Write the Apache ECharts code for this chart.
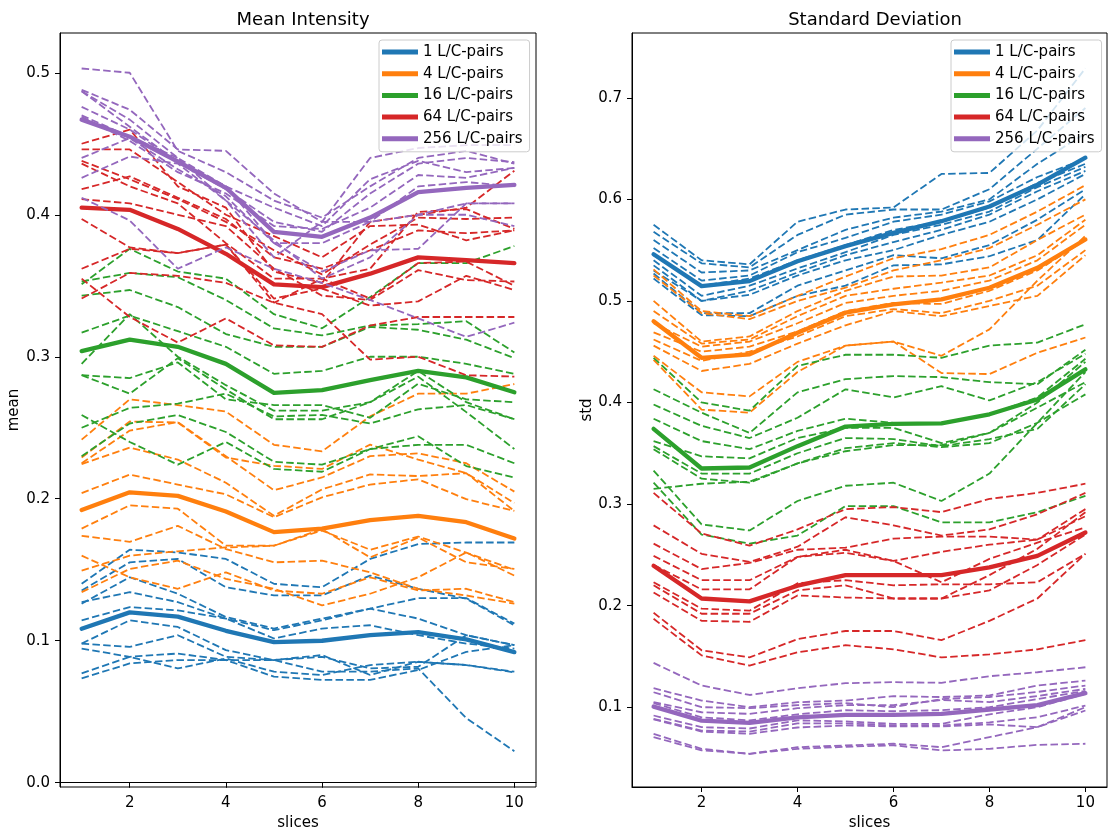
<!DOCTYPE html>
<html lang="en">
<head>
    <meta charset="UTF-8">
    <title>Mean Intensity / Standard Deviation</title>
    <script src="https://cdn.jsdelivr.net/npm/echarts@6.0.0/dist/echarts.min.js"></script>
    <style>
        html, body { margin: 0; padding: 0; background: #fff; }
        #chart { width: 1111px; height: 836px; }
    </style>
</head>
<body>
<div id="chart"></div>
<script>
    // x axis: slice index
    var slices = [1, 2, 3, 4, 5, 6, 7, 8, 9, 10];
    var groupNames = ['1 L/C-pairs', '4 L/C-pairs', '16 L/C-pairs', '64 L/C-pairs', '256 L/C-pairs'];
    var xTicks = [2, 4, 6, 8, 10];
    var meanTicks = [0.0, 0.1, 0.2, 0.3, 0.4, 0.5];
    var stdTicks = [0.1, 0.2, 0.3, 0.4, 0.5, 0.6, 0.7];

    // ---- mean intensity: averages (thick) ----
    var meanAvg1 = [0.1085, 0.120, 0.117, 0.107, 0.099, 0.100, 0.104, 0.106, 0.101, 0.092];
    var meanAvg4 = [0.192, 0.2045, 0.202, 0.191, 0.1765, 0.179, 0.185, 0.188, 0.1835, 0.172];
    var meanAvg16 = [0.304, 0.312, 0.307, 0.295, 0.2745, 0.2765, 0.2835, 0.290, 0.2855, 0.275];
    var meanAvg64 = [0.405, 0.4035, 0.390, 0.3725, 0.351, 0.349, 0.3585, 0.370, 0.368, 0.366];
    var meanAvg256 = [0.467, 0.455, 0.4375, 0.419, 0.388, 0.3845, 0.398, 0.416, 0.419, 0.421];

    // ---- mean intensity: single runs (dashed) ----
    var meanRuns1 = [
        [0.1401, 0.1641, 0.1622, 0.1576, 0.1401, 0.1377, 0.1576, 0.1681, 0.1692, 0.1692],
        [0.1354, 0.1552, 0.1576, 0.1377, 0.1319, 0.1319, 0.1459, 0.1366, 0.1296, 0.1109],
        [0.1261, 0.1447, 0.1331, 0.1167, 0.1086, 0.1156, 0.1226, 0.1300, 0.1300, 0.1121],
        [0.1272, 0.1342, 0.1272, 0.1156, 0.1016, 0.1086, 0.1109, 0.1039, 0.0980, 0.0945],
        [0.1144, 0.1237, 0.1214, 0.1156, 0.1074, 0.1144, 0.1226, 0.1156, 0.1039, 0.0969],
        [0.0980, 0.1144, 0.1097, 0.0934, 0.0864, 0.0887, 0.0805, 0.0817, 0.1039, 0.0969],
        [0.0980, 0.0957, 0.1039, 0.0887, 0.0864, 0.0899, 0.0759, 0.0852, 0.0829, 0.0782],
        [0.0945, 0.0887, 0.0910, 0.0864, 0.0864, 0.0782, 0.0782, 0.0805, 0.0455, 0.0222],
        [0.0770, 0.0887, 0.0805, 0.0875, 0.0782, 0.0759, 0.0829, 0.0852, 0.0829, 0.0777],
        [0.0735, 0.0840, 0.0864, 0.0864, 0.0747, 0.0724, 0.0724, 0.0794, 0.0922, 0.0969]
    ];
    var meanRuns4 = [
        [0.2416, 0.2700, 0.2660, 0.2614, 0.2380, 0.2334, 0.2580, 0.2740, 0.2740, 0.2808],
        [0.2290, 0.2544, 0.2537, 0.2290, 0.2232, 0.2210, 0.2381, 0.2276, 0.2180, 0.1970],
        [0.2244, 0.2360, 0.2276, 0.2113, 0.1880, 0.2066, 0.2171, 0.2160, 0.2180, 0.1914],
        [0.2040, 0.2170, 0.2100, 0.2031, 0.1870, 0.2010, 0.2100, 0.2137, 0.1997, 0.1914],
        [0.1790, 0.1954, 0.1930, 0.1670, 0.1670, 0.1776, 0.1641, 0.1734, 0.1620, 0.1500],
        [0.1739, 0.1697, 0.1809, 0.1646, 0.1552, 0.1564, 0.1482, 0.1366, 0.1319, 0.1261],
        [0.1599, 0.1447, 0.1366, 0.1482, 0.1354, 0.1331, 0.1447, 0.1354, 0.1366, 0.1272],
        [0.1494, 0.1599, 0.1630, 0.1657, 0.1669, 0.1786, 0.1587, 0.1727, 0.1552, 0.1506],
        [0.1342, 0.1506, 0.1564, 0.1436, 0.1366, 0.1249, 0.1331, 0.1447, 0.1622, 0.1459],
        [0.2250, 0.2480, 0.2540, 0.2300, 0.2060, 0.2150, 0.2300, 0.2320, 0.2250, 0.2050]
    ];
    var meanRuns16 = [
        [0.351, 0.376, 0.360, 0.355, 0.330, 0.320, 0.342, 0.366, 0.366, 0.378],
        [0.353, 0.359, 0.356, 0.340, 0.320, 0.315, 0.322, 0.323, 0.325, 0.303],
        [0.343, 0.347, 0.335, 0.316, 0.307, 0.307, 0.321, 0.319, 0.312, 0.299],
        [0.317, 0.329, 0.318, 0.307, 0.288, 0.290, 0.300, 0.300, 0.295, 0.288],
        [0.295, 0.330, 0.300, 0.280, 0.262, 0.262, 0.268, 0.290, 0.268, 0.256],
        [0.287, 0.285, 0.296, 0.270, 0.266, 0.266, 0.257, 0.281, 0.270, 0.268],
        [0.230, 0.253, 0.259, 0.247, 0.226, 0.224, 0.235, 0.238, 0.238, 0.225],
        [0.250, 0.264, 0.267, 0.274, 0.258, 0.259, 0.253, 0.263, 0.266, 0.256],
        [0.259, 0.240, 0.224, 0.240, 0.221, 0.219, 0.235, 0.244, 0.223, 0.215],
        [0.287, 0.274, 0.299, 0.277, 0.256, 0.256, 0.268, 0.286, 0.261, 0.235]
    ];
    var meanRuns64 = [
        [0.450, 0.460, 0.420, 0.405, 0.360, 0.352, 0.395, 0.400, 0.405, 0.431],
        [0.446, 0.446, 0.423, 0.400, 0.385, 0.370, 0.392, 0.393, 0.382, 0.389],
        [0.438, 0.425, 0.411, 0.395, 0.375, 0.358, 0.379, 0.398, 0.397, 0.398],
        [0.436, 0.420, 0.408, 0.380, 0.355, 0.355, 0.362, 0.402, 0.404, 0.390],
        [0.418, 0.427, 0.412, 0.397, 0.370, 0.362, 0.375, 0.389, 0.387, 0.389],
        [0.411, 0.408, 0.400, 0.392, 0.362, 0.343, 0.340, 0.361, 0.354, 0.353],
        [0.397, 0.377, 0.373, 0.379, 0.338, 0.355, 0.341, 0.366, 0.367, 0.350],
        [0.362, 0.376, 0.373, 0.379, 0.341, 0.348, 0.336, 0.339, 0.357, 0.347],
        [0.355, 0.328, 0.310, 0.327, 0.308, 0.307, 0.322, 0.328, 0.328, 0.328],
        [0.341, 0.359, 0.357, 0.352, 0.338, 0.330, 0.298, 0.300, 0.287, 0.286]
    ];
    var meanRuns256 = [
        [0.503, 0.500, 0.445, 0.430, 0.410, 0.398, 0.420, 0.440, 0.445, 0.436],
        [0.488, 0.474, 0.446, 0.445, 0.415, 0.395, 0.440, 0.447, 0.449, 0.449],
        [0.487, 0.467, 0.440, 0.420, 0.405, 0.392, 0.425, 0.438, 0.430, 0.433],
        [0.476, 0.460, 0.437, 0.418, 0.395, 0.388, 0.415, 0.436, 0.440, 0.437],
        [0.469, 0.452, 0.430, 0.415, 0.392, 0.390, 0.405, 0.428, 0.426, 0.433],
        [0.440, 0.454, 0.432, 0.413, 0.380, 0.380, 0.395, 0.400, 0.408, 0.408],
        [0.426, 0.441, 0.436, 0.410, 0.382, 0.355, 0.370, 0.400, 0.400, 0.392],
        [0.412, 0.396, 0.362, 0.377, 0.362, 0.352, 0.340, 0.327, 0.314, 0.324],
        [0.487, 0.462, 0.437, 0.420, 0.380, 0.360, 0.375, 0.376, 0.408, 0.408],
        [0.470, 0.455, 0.440, 0.410, 0.370, 0.395, 0.395, 0.420, 0.423, 0.420]
    ];

    // ---- standard deviation: averages (thick) ----
    var stdAvg1 = [0.546, 0.5146, 0.5195, 0.539, 0.554, 0.567, 0.5785, 0.593, 0.6145, 0.641];
    var stdAvg4 = [0.480, 0.444, 0.4474, 0.4687, 0.4884, 0.4966, 0.5015, 0.513, 0.5326, 0.5605];
    var stdAvg16 = [0.374, 0.335, 0.336, 0.357, 0.3763, 0.379, 0.3795, 0.3884, 0.403, 0.4326];
    var stdAvg64 = [0.2393, 0.207, 0.2042, 0.2196, 0.230, 0.230, 0.230, 0.2376, 0.249, 0.272];
    var stdAvg256 = [0.1006, 0.0868, 0.0846, 0.090, 0.0924, 0.0924, 0.0934, 0.0977, 0.102, 0.1138];

    // ---- standard deviation: single runs (dashed) ----
    var stdRuns1 = [
        [0.575, 0.540, 0.536, 0.578, 0.590, 0.592, 0.625, 0.626, 0.668, 0.729],
        [0.568, 0.537, 0.533, 0.565, 0.585, 0.590, 0.590, 0.610, 0.650, 0.690],
        [0.560, 0.528, 0.530, 0.550, 0.570, 0.582, 0.588, 0.600, 0.635, 0.665],
        [0.552, 0.520, 0.525, 0.548, 0.562, 0.578, 0.585, 0.598, 0.622, 0.640],
        [0.545, 0.515, 0.522, 0.540, 0.555, 0.570, 0.578, 0.592, 0.616, 0.635],
        [0.540, 0.505, 0.515, 0.532, 0.548, 0.565, 0.575, 0.588, 0.612, 0.632],
        [0.535, 0.500, 0.510, 0.528, 0.545, 0.558, 0.570, 0.585, 0.608, 0.628],
        [0.530, 0.500, 0.506, 0.525, 0.540, 0.550, 0.565, 0.578, 0.600, 0.625],
        [0.527, 0.488, 0.488, 0.515, 0.530, 0.545, 0.542, 0.555, 0.580, 0.610],
        [0.522, 0.486, 0.485, 0.505, 0.515, 0.535, 0.536, 0.544, 0.560, 0.605]
    ];
    var stdRuns4 = [
        [0.531, 0.490, 0.485, 0.505, 0.524, 0.542, 0.551, 0.565, 0.588, 0.614],
        [0.525, 0.488, 0.482, 0.500, 0.513, 0.530, 0.540, 0.552, 0.575, 0.600],
        [0.500, 0.460, 0.465, 0.490, 0.510, 0.524, 0.525, 0.533, 0.560, 0.585],
        [0.490, 0.458, 0.462, 0.485, 0.505, 0.512, 0.518, 0.525, 0.545, 0.580],
        [0.478, 0.455, 0.460, 0.478, 0.498, 0.505, 0.510, 0.520, 0.540, 0.575],
        [0.469, 0.450, 0.455, 0.470, 0.490, 0.498, 0.497, 0.510, 0.530, 0.560],
        [0.462, 0.441, 0.450, 0.465, 0.485, 0.492, 0.488, 0.500, 0.515, 0.550],
        [0.456, 0.431, 0.438, 0.458, 0.476, 0.490, 0.485, 0.495, 0.505, 0.545],
        [0.446, 0.410, 0.406, 0.440, 0.456, 0.460, 0.446, 0.472, 0.520, 0.564],
        [0.442, 0.393, 0.390, 0.430, 0.456, 0.460, 0.429, 0.428, 0.449, 0.464]
    ];
    var stdRuns16 = [
        [0.444, 0.400, 0.392, 0.436, 0.447, 0.447, 0.444, 0.456, 0.459, 0.477],
        [0.413, 0.390, 0.370, 0.410, 0.423, 0.426, 0.425, 0.420, 0.418, 0.452],
        [0.398, 0.377, 0.365, 0.385, 0.413, 0.405, 0.416, 0.402, 0.420, 0.448],
        [0.384, 0.362, 0.354, 0.372, 0.384, 0.380, 0.380, 0.388, 0.405, 0.443],
        [0.362, 0.347, 0.345, 0.365, 0.375, 0.375, 0.360, 0.370, 0.400, 0.440],
        [0.357, 0.330, 0.330, 0.350, 0.365, 0.364, 0.357, 0.364, 0.374, 0.418],
        [0.354, 0.325, 0.321, 0.340, 0.355, 0.360, 0.356, 0.360, 0.380, 0.408],
        [0.333, 0.280, 0.274, 0.303, 0.318, 0.321, 0.303, 0.330, 0.380, 0.430],
        [0.321, 0.270, 0.261, 0.269, 0.298, 0.298, 0.282, 0.282, 0.292, 0.308],
        [0.315, 0.320, 0.322, 0.340, 0.352, 0.358, 0.358, 0.370, 0.395, 0.420]
    ];
    var stdRuns64 = [
        [0.311, 0.271, 0.259, 0.275, 0.295, 0.297, 0.292, 0.305, 0.311, 0.320],
        [0.279, 0.251, 0.243, 0.258, 0.287, 0.279, 0.269, 0.275, 0.290, 0.311],
        [0.261, 0.236, 0.242, 0.255, 0.257, 0.266, 0.268, 0.268, 0.265, 0.295],
        [0.249, 0.225, 0.225, 0.248, 0.252, 0.244, 0.253, 0.260, 0.265, 0.288],
        [0.240, 0.216, 0.216, 0.248, 0.255, 0.244, 0.223, 0.246, 0.262, 0.277],
        [0.223, 0.197, 0.195, 0.222, 0.225, 0.220, 0.221, 0.221, 0.223, 0.251],
        [0.220, 0.192, 0.192, 0.215, 0.220, 0.207, 0.207, 0.230, 0.256, 0.292],
        [0.213, 0.185, 0.184, 0.210, 0.208, 0.207, 0.207, 0.215, 0.240, 0.270],
        [0.193, 0.156, 0.149, 0.167, 0.175, 0.175, 0.166, 0.185, 0.207, 0.251],
        [0.187, 0.151, 0.141, 0.154, 0.161, 0.157, 0.149, 0.152, 0.157, 0.166]
    ];
    var stdRuns256 = [
        [0.1436, 0.1213, 0.1120, 0.1187, 0.1236, 0.1246, 0.1240, 0.1305, 0.1344, 0.1393],
        [0.1187, 0.1065, 0.1000, 0.1049, 0.1065, 0.1108, 0.1100, 0.1115, 0.1213, 0.1262],
        [0.1147, 0.1000, 0.0990, 0.1020, 0.1040, 0.1000, 0.1080, 0.1100, 0.1150, 0.1213],
        [0.1049, 0.0950, 0.0934, 0.0990, 0.1020, 0.1020, 0.1070, 0.1050, 0.1110, 0.1180],
        [0.1040, 0.0900, 0.0870, 0.0930, 0.0970, 0.0960, 0.0970, 0.1000, 0.1080, 0.1160],
        [0.0918, 0.0803, 0.0790, 0.0870, 0.0860, 0.0836, 0.0836, 0.0930, 0.1000, 0.1130],
        [0.0885, 0.0770, 0.0760, 0.0840, 0.0840, 0.0820, 0.0820, 0.0850, 0.0901, 0.1016],
        [0.0880, 0.0760, 0.0738, 0.0800, 0.0820, 0.0810, 0.0810, 0.0830, 0.0803, 0.0967],
        [0.0737, 0.0590, 0.0541, 0.0606, 0.0623, 0.0640, 0.0606, 0.0705, 0.0803, 0.1000],
        [0.0705, 0.0575, 0.0541, 0.0590, 0.0610, 0.0625, 0.0574, 0.0590, 0.0629, 0.0640]
    ];

    var colors = ['#1f77b4', '#ff7f0e', '#2ca02c', '#d62728', '#9467bd'];
    var font = 'DejaVu Sans';

    var meanGroups = [[meanRuns1, meanAvg1], [meanRuns4, meanAvg4], [meanRuns16, meanAvg16], [meanRuns64, meanAvg64], [meanRuns256, meanAvg256]];
    var stdGroups = [[stdRuns1, stdAvg1], [stdRuns4, stdAvg4], [stdRuns16, stdAvg16], [stdRuns64, stdAvg64], [stdRuns256, stdAvg256]];

    function toPoints(vals) {
        return slices.map(function (s, i) { return [s, vals[i]]; });
    }

    // dashed runs first, then the thick average, group after group
    function buildSeries(groups, axisIdx) {
        var out = [];
        groups.forEach(function (g, gi) {
            g[0].forEach(function (run, ri) {
                out.push({
                    type: 'line', name: 'run' + axisIdx + '_' + gi + '_' + ri,
                    xAxisIndex: axisIdx, yAxisIndex: axisIdx,
                    data: toPoints(run), symbol: 'none', silent: true,
                    color: colors[gi],
                    lineStyle: { color: colors[gi], width: 1.8, type: [7.5, 3.3] }
                });
            });
            out.push({
                type: 'line', name: groupNames[gi],
                xAxisIndex: axisIdx, yAxisIndex: axisIdx,
                data: toPoints(g[1]), symbol: 'none', silent: true,
                color: colors[gi],
                lineStyle: { color: colors[gi], width: 4.3, join: 'round', cap: 'round' }
            });
        });
        return out;
    }

    function xAxisOf(gi) {
        return {
            type: 'value', gridIndex: gi, min: 0.55, max: 10.45,
            name: 'slices', nameLocation: 'middle', nameGap: 29,
            nameTextStyle: { fontSize: 15, color: '#000', fontFamily: font },
            splitLine: { show: false },
            axisLine: { lineStyle: { color: '#000', width: 1 } },
            axisTick: { length: 5, lineStyle: { color: '#000' }, customValues: xTicks },
            axisLabel: { customValues: xTicks, fontSize: 15, color: '#000', fontFamily: font, margin: 9 }
        };
    }

    function yAxisOf(gi, name, min, max, ticks, gap) {
        return {
            type: 'value', gridIndex: gi, min: min, max: max,
            name: name, nameLocation: 'middle', nameGap: gap,
            nameTextStyle: { fontSize: 15, color: '#000', fontFamily: font },
            splitLine: { show: false },
            axisLine: { show: true, lineStyle: { color: '#000', width: 1 } },
            axisTick: { show: true, length: 5, lineStyle: { color: '#000' }, customValues: ticks },
            axisLabel: {
                customValues: ticks, fontSize: 15, color: '#000', fontFamily: font, margin: 10,
                formatter: function (v) { return v.toFixed(1); }
            }
        };
    }

    function legendOf(left) {
        return {
            data: groupNames, orient: 'vertical', left: left, top: 40,
            icon: 'rect', itemWidth: 36, itemHeight: 5, itemGap: 5.7, itemTextGap: 8,
            selectedMode: false,
            backgroundColor: 'rgba(255,255,255,0.8)', borderColor: '#cccccc', borderWidth: 1, borderRadius: 3,
            padding: [4, 7, 5, 3],
            textStyle: { fontSize: 15, color: '#000', fontFamily: font, lineHeight: 16 }
        };
    }

    var chart = echarts.init(document.getElementById('chart'), null, { renderer: 'canvas' });
    chart.setOption({
        animation: false,
        backgroundColor: '#fff',
        title: [
            { text: 'Mean Intensity', left: 298, top: 6, textAlign: 'center',
              textStyle: { fontSize: 18, fontWeight: 'normal', color: '#000', fontFamily: font } },
            { text: 'Standard Deviation', left: 870, top: 6, textAlign: 'center',
              textStyle: { fontSize: 18, fontWeight: 'normal', color: '#000', fontFamily: font } }
        ],
        legend: [legendOf(379), legendOf(951)],
        grid: [
            { left: 60, right: 575, top: 33, bottom: 47, show: true, borderColor: '#000', borderWidth: 1 },
            { left: 632, right: 4, top: 33, bottom: 47, show: true, borderColor: '#000', borderWidth: 1 }
        ],
        xAxis: [xAxisOf(0), xAxisOf(1)],
        yAxis: [
            yAxisOf(0, 'mean', -0.003, 0.528, meanTicks, 38),
            yAxisOf(1, 'std', 0.0214, 0.7638, stdTicks, 30)
        ],
        series: buildSeries(meanGroups, 0).concat(buildSeries(stdGroups, 1))
    });
</script>
</body>
</html>
